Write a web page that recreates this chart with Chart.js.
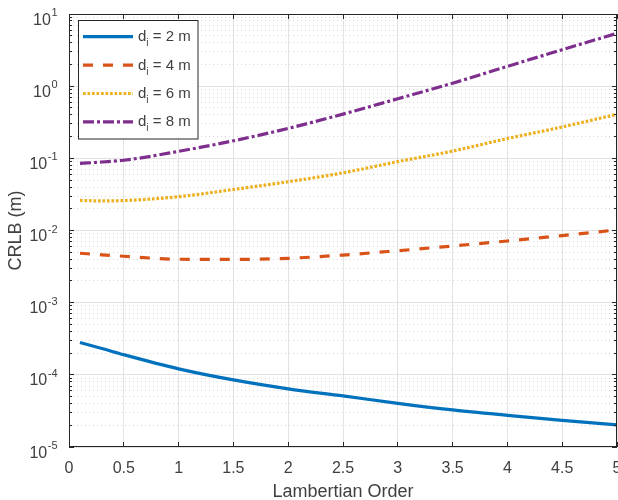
<!DOCTYPE html>
<html lang="en">

<head>
  <meta charset="UTF-8">
  <title>CRLB vs Lambertian Order</title>
  <script src="https://cdn.jsdelivr.net/npm/chart.js"></script>
  <style>
    html,
    body {
      margin: 0;
      padding: 0;
      background: #fff;
    }

    #grafico {
      display: block;
    }
  </style>
</head>

<body>
  <canvas id="grafico" width="618" height="500"></canvas>

  <script>
    // Lambertian order (x) and CRLB values (m) for each distance d_i
    const ordens = [0.1, 0.3, 0.5, 1, 1.5, 2, 2.5, 3, 3.5, 4, 4.5, 5];
    const crlb2m = [2.81e-4, 2.32e-4, 1.9e-4, 1.21e-4, 8.5e-5, 6.4e-5, 5.1e-5, 4.03e-5, 3.27e-5, 2.75e-5, 2.34e-5, 2.02e-5];
    const crlb4m = [4.84e-3, 4.6e-3, 4.4e-3, 4.0e-3, 3.98e-3, 4.12e-3, 4.57e-3, 5.25e-3, 6.1e-3, 7.16e-3, 8.5e-3, 1.02e-2];
    const crlb6m = [2.61e-2, 2.57e-2, 2.6e-2, 2.94e-2, 3.7e-2, 4.74e-2, 6.3e-2, 9.0e-2, 0.126, 0.188, 0.272, 0.408];
    const crlb8m = [8.5e-2, 8.9e-2, 9.4e-2, 0.125, 0.175, 0.26, 0.41, 0.67, 1.10, 1.88, 3.2, 5.4];
    const distancias = ['2', '4', '6', '8'];

    const xTicks = [0, 0.5, 1, 1.5, 2, 2.5, 3, 3.5, 4, 4.5, 5];
    const xTickLabels = ['0', '0.5', '1', '1.5', '2', '2.5', '3', '3.5', '4', '4.5', '5'];
    const yExpoentes = [-5, -4, -3, -2, -1, 0, 1];
    const yMantissas = [1, 2, 3, 4, 5, 6, 7, 8, 9];

    const fonte = '"Liberation Sans", Arial, Helvetica, sans-serif';
    const corTexto = '#404040';
    const corEixo = '#262626';

    function pontos(valores) {
      return ordens.map((x, i) => ({ x: x, y: valores[i] }));
    }

    function ehDecada(v) {
      const l = Math.log10(v);
      return Math.abs(l - Math.round(l)) < 1e-9;
    }

    // every decade gets 1..9 ticks (minor grid), the last decade only its 10^n
    const yTicks = [];
    yExpoentes.forEach((e, i) => {
      if (i === yExpoentes.length - 1) {
        yTicks.push(Math.pow(10, e));
      } else {
        yMantissas.forEach(m => yTicks.push(m * Math.pow(10, e)));
      }
    });

    // frame, inward ticks, tick labels with superscripts, axis titles, legend
    const molduraPlugin = {
      id: 'moldura',
      afterDraw(chart) {
        const { ctx, chartArea: a, scales } = chart;
        const x = scales.x;
        const y = scales.y;
        ctx.save();

        ctx.strokeStyle = corEixo;
        ctx.lineWidth = 1;
        ctx.setLineDash([]);
        ctx.beginPath();
        x.ticks.forEach(t => {
          const px = Math.round(x.getPixelForValue(t.value) - 0.5) + 0.5;
          ctx.moveTo(px, a.bottom);
          ctx.lineTo(px, a.bottom - 5);
          ctx.moveTo(px, a.top);
          ctx.lineTo(px, a.top + 5);
        });
        y.ticks.forEach(t => {
          const len = ehDecada(t.value) ? 5 : 3;
          const py = Math.round(y.getPixelForValue(t.value) - 0.5) + 0.5;
          ctx.moveTo(a.left, py);
          ctx.lineTo(a.left + len, py);
          ctx.moveTo(a.right, py);
          ctx.lineTo(a.right - len, py);
        });
        ctx.stroke();
        ctx.strokeRect(a.left + 0.5, a.top + 0.5, a.width - 1, a.height - 1);

        // x tick labels
        ctx.fillStyle = corTexto;
        ctx.font = '16px ' + fonte;
        ctx.textAlign = 'center';
        ctx.textBaseline = 'alphabetic';
        xTicks.forEach((v, i) => {
          ctx.fillText(xTickLabels[i], x.getPixelForValue(v), a.bottom + 25.5);
        });

        // y tick labels 10^n
        ctx.textAlign = 'right';
        yExpoentes.forEach(e => {
          const py = y.getPixelForValue(Math.pow(10, e));
          const sup = String(e);
          ctx.font = '11px ' + fonte;
          const wSup = ctx.measureText(sup).width;
          ctx.fillText(sup, 57.5, py + 2);
          ctx.font = '16px ' + fonte;
          ctx.fillText('10', 57.5 - wSup - 0.5, py + 10.5);
        });

        // axis titles
        ctx.font = '18px ' + fonte;
        ctx.textAlign = 'center';
        ctx.fillText('Lambertian Order', (a.left + a.right) / 2, 497);
        ctx.save();
        ctx.translate(16.5, (a.top + a.bottom) / 2);
        ctx.rotate(-Math.PI / 2);
        ctx.textBaseline = 'middle';
        ctx.fillText('CRLB (m)', 0, 0);
        ctx.restore();

        // legend box
        ctx.fillStyle = '#fff';
        ctx.fillRect(78.5, 20.5, 119.5, 118.5);
        ctx.strokeStyle = corEixo;
        ctx.lineWidth = 1;
        ctx.strokeRect(78.5, 20.5, 119.5, 118.5);
        chart.data.datasets.forEach((ds, i) => {
          const ly = 36.7 + i * 28.4;
          ctx.setLineDash(ds.borderDash || []);
          ctx.strokeStyle = ds.borderColor;
          ctx.lineWidth = ds.borderWidth;
          ctx.beginPath();
          ctx.moveTo(83, ly);
          ctx.lineTo(133, ly);
          ctx.stroke();
          ctx.setLineDash([]);

          ctx.fillStyle = corTexto;
          ctx.textAlign = 'left';
          ctx.textBaseline = 'alphabetic';
          let tx = 138;
          ctx.font = '15px ' + fonte;
          ctx.fillText('d', tx, ly + 4.5);
          tx += ctx.measureText('d').width;
          ctx.font = '10px ' + fonte;
          ctx.fillText('i', tx, ly + 9.5);
          tx += ctx.measureText('i').width;
          ctx.font = '15px ' + fonte;
          ctx.fillText(' = ' + distancias[i] + ' m', tx, ly + 4.5);
        });

        ctx.restore();
      }
    };

    const ctx = document.getElementById('grafico').getContext('2d');
    new Chart(ctx, {
      type: 'line',
      data: {
        datasets: [{
          label: 'd_i = 2 m',
          data: pontos(crlb2m),
          borderColor: '#0072BD',
          borderWidth: 3.2,
          borderDash: []
        }, {
          label: 'd_i = 4 m',
          data: pontos(crlb4m),
          borderColor: '#D95319',
          borderWidth: 3.2,
          borderDash: [10, 10]
        }, {
          label: 'd_i = 6 m',
          data: pontos(crlb6m),
          borderColor: '#EDB120',
          borderWidth: 3.2,
          borderDash: [2.7, 1.8]
        }, {
          label: 'd_i = 8 m',
          data: pontos(crlb8m),
          borderColor: '#7E2F8E',
          borderWidth: 3.2,
          borderDash: [11, 3, 3, 3]
        }]
      },
      options: {
        responsive: false,
        animation: false,
        layout: { padding: { top: 14, right: 1, left: 0, bottom: 0 } },
        elements: {
          point: { radius: 0, hoverRadius: 0 },
          line: { cubicInterpolationMode: 'monotone', borderCapStyle: 'butt', fill: false }
        },
        scales: {
          x: {
            type: 'linear',
            min: 0,
            max: 5,
            afterBuildTicks: scale => {
              scale.ticks = xTicks.map(v => ({ value: v }));
            },
            afterFit: scale => {
              scale.height = 53;
              scale.paddingLeft = 0;
              scale.paddingRight = 0;
            },
            ticks: { display: false, autoSkip: false },
            grid: { color: '#e2e2e2', lineWidth: 1, drawTicks: false },
            border: { display: false }
          },
          y: {
            type: 'logarithmic',
            min: 1e-5,
            max: 10,
            afterBuildTicks: scale => {
              scale.ticks = yTicks.map(v => ({ value: v, major: ehDecada(v) }));
            },
            afterFit: scale => {
              scale.width = 69;
              scale.paddingTop = 0;
              scale.paddingBottom = 0;
            },
            ticks: { display: false, autoSkip: false },
            grid: {
              drawTicks: false,
              lineWidth: 1,
              color: c => (c.tick && !ehDecada(c.tick.value)) ? '#d6d6d6' : '#e2e2e2'
            },
            border: {
              display: false,
              dash: c => (c.tick && !ehDecada(c.tick.value)) ? [1, 3] : []
            }
          }
        },
        plugins: {
          legend: { display: false },
          tooltip: { enabled: false }
        }
      },
      plugins: [molduraPlugin]
    });
  </script>
</body>

</html>
